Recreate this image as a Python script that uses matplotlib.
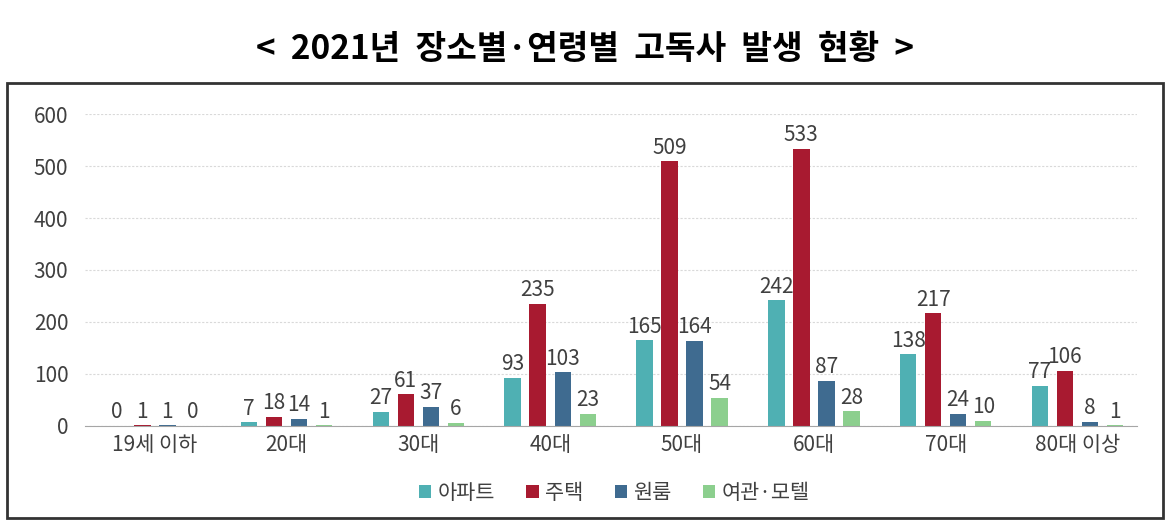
import matplotlib
matplotlib.use("Agg")
import matplotlib.pyplot as plt
import numpy as np
from matplotlib.patches import Rectangle

plt.rcParams['font.family'] = ['Noto Sans CJK KR', 'DejaVu Sans']

categories = ["19세 이하", "20대", "30대", "40대", "50대", "60대", "70대", "80대 이상"]
series_names = ["아파트", "주택", "원룸", "여관·모텔"]
apartment = [0, 7, 27, 93, 165, 242, 138, 77]
house = [1, 18, 61, 235, 509, 533, 217, 106]
oneroom = [1, 14, 37, 103, 164, 87, 24, 8]
motel = [0, 1, 6, 23, 54, 28, 10, 1]
colors = ["#4fb0b3", "#a81a30", "#3f6b90", "#8ccf8e"]
yticks = [0, 100, 200, 300, 400, 500, 600]

fig = plt.figure(figsize=(11.7, 5.23), dpi=100)
ax = fig.add_axes([0.0726, 0.1855, 0.899, 0.5965])

x = np.arange(len(categories))
step = 0.19
width = 0.125
all_series = [apartment, house, oneroom, motel]
for i, (vals, name, c) in enumerate(zip(all_series, series_names, colors)):
    pos = x + (i - 1.5) * step
    bars = ax.bar(pos, vals, width, color=c, label=name, zorder=3)
    for b, v in zip(bars, vals):
        ax.text(b.get_x() + b.get_width() / 2, v + 5, str(v), ha='center', va='bottom',
                fontsize=15, color='#404040')

ax.set_ylim(0, 600)
ax.set_xlim(-0.53, len(categories) - 0.55)
ax.set_yticks(yticks)
ax.set_yticklabels([str(t) for t in yticks], fontsize=15, color='#404040')
ax.set_xticks(x)
ax.set_xticklabels(categories, fontsize=15, color='#404040')
ax.tick_params(axis='both', length=0, pad=6)
ax.tick_params(axis='y', pad=12)
ax.yaxis.grid(True, linestyle=(0, (2, 1.5)), color='#d9d9d9', linewidth=0.8, zorder=0)
for s in ['top', 'right', 'left']:
    ax.spines[s].set_visible(False)
ax.spines['bottom'].set_color('#a6a6a6')
ax.spines['bottom'].set_zorder(4)

leg = fig.legend(loc='center', bbox_to_anchor=(0.525, 0.057), ncol=4, frameon=False,
                 fontsize=15, handlelength=0.6, handleheight=0.6, handletextpad=0.3,
                 columnspacing=1.5, labelcolor='#404040')

fig.text(0.5, 0.905, "<  2021년  장소별·연령별  고독사  발생  현황  >", ha='center', va='center',
         fontsize=24, fontweight='bold', color='black')

fig.patches.append(Rectangle((0.006, 0.0096), 0.988, 0.8314, transform=fig.transFigure,
                             fill=False, edgecolor='#333333', linewidth=2))

fig.savefig("out.png", dpi=100)
